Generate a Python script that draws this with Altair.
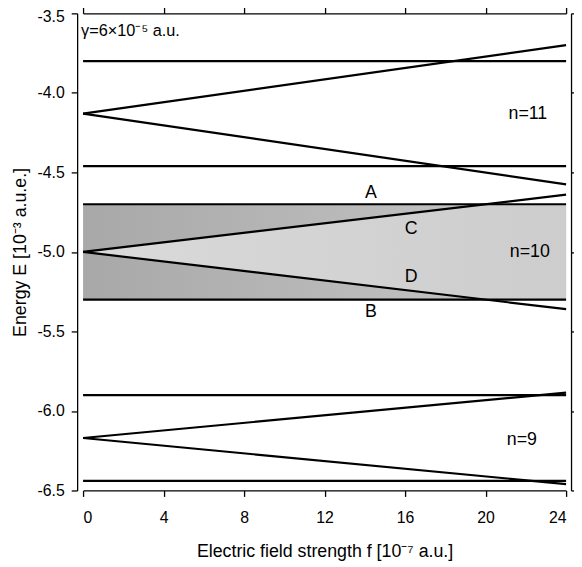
import altair as alt
import pandas as pd

# ---- data ----
levels = ["n=11", "n=10", "n=9"]
centers = [-4.13, -5.00, -6.17]          # fan origin at f = 0
fan_upper_end = [-3.70, -4.64, -5.885]   # upper Stark line at f = 24
fan_lower_end = [-4.575, -5.36, -6.46]   # lower Stark line at f = 24
flat_upper = [-3.80, -4.70, -5.90]       # field-independent upper level
flat_lower = [-4.46, -5.30, -6.44]       # field-independent lower level
f_max = 24.0

x_ticks = [0, 4, 8, 12, 16, 20, 24]
y_ticks = [-3.5, -4.0, -4.5, -5.0, -5.5, -6.0, -6.5]

label_text = ["n=11", "n=10", "n=9", "A", "B", "C", "D"]
label_f = [22.1, 22.2, 21.8, 14.3, 14.3, 16.3, 16.3]
label_E = [-4.13, -5.00, -6.18, -4.63, -5.38, -4.855, -5.157]

gamma_text = "γ=6×10⁻⁵ a.u."
gamma_f = 0.0
gamma_E = -3.61

FONT = "Liberation Sans"

# ---- tables ----
flat_rows = []
for i, lv in enumerate(levels):
    flat_rows.append({"id": f"{lv}_u", "f": 0.0, "f2": f_max, "E": flat_upper[i]})
    flat_rows.append({"id": f"{lv}_l", "f": 0.0, "f2": f_max, "E": flat_lower[i]})
flat_df = pd.DataFrame(flat_rows)

fan_rows = []
for i, lv in enumerate(levels):
    fan_rows += [
        {"id": f"{lv}_up", "f": 0.0, "E": centers[i]},
        {"id": f"{lv}_up", "f": f_max, "E": fan_upper_end[i]},
        {"id": f"{lv}_lo", "f": 0.0, "E": centers[i]},
        {"id": f"{lv}_lo", "f": f_max, "E": fan_lower_end[i]},
    ]
fan_df = pd.DataFrame(fan_rows)

# shaded band of n=10 (between A and B)
k = 1
band_df = pd.DataFrame([{"f": 0.0, "f2": f_max, "E": flat_upper[k], "E2": flat_lower[k]}])

# lighter wedge between the n=10 Stark lines, limited to the band
def up(f):
    return centers[k] + (fan_upper_end[k] - centers[k]) * f / f_max

def lo(f):
    return centers[k] + (fan_lower_end[k] - centers[k]) * f / f_max

fu = f_max * (flat_upper[k] - centers[k]) / (fan_upper_end[k] - centers[k])
fl = f_max * (flat_lower[k] - centers[k]) / (fan_lower_end[k] - centers[k])
fs = sorted(set([0.0, min(fu, f_max), min(fl, f_max), f_max]))
wedge_df = pd.DataFrame([
    {"f": f, "top": min(up(f), flat_upper[k]), "bot": max(lo(f), flat_lower[k])} for f in fs
])

lab_df = pd.DataFrame({"t": label_text, "f": label_f, "E": label_E})
gam_df = pd.DataFrame({"t": [gamma_text], "f": [gamma_f], "E": [gamma_E]})

xs = alt.Scale(domain=[0, 24], nice=False, zero=False)
ys = alt.Scale(domain=[-6.5, -3.5], nice=False, zero=False)

label_expr = "(datum.value % 1 === 0) ? toString(datum.value) + '.0' : toString(datum.value)"

x_bottom = alt.Axis(values=x_ticks, orient="bottom", title="Electric field strength f [10⁻⁷ a.u.]",
                    grid=False, tickSize=6, labelPadding=13, titlePadding=18,
                    labelFontSize=16, titleFontSize=18, labelFont=FONT, titleFont=FONT,
                    titleFontWeight="normal", labelColor="black", titleColor="black",
                    domainColor="black", tickColor="black", domainWidth=1.3, tickWidth=1.3)
y_left = alt.Axis(values=y_ticks, orient="left", title="Energy E [10⁻³ a.u.e.]",
                  labelExpr=label_expr, grid=False, tickSize=6, offset=6,
                  labelPadding=7, titlePadding=8,
                  labelOffset={"condition": {"test": "datum.value === -3.5", "value": 3}, "value": 0},
                  labelFontSize=16, titleFontSize=18, labelFont=FONT, titleFont=FONT,
                  titleFontWeight="normal", labelColor="black", titleColor="black",
                  domainColor="black", tickColor="black", domainWidth=1.3, tickWidth=1.3)
x_top = alt.Axis(values=x_ticks, orient="top", title=None, labels=False, grid=False, tickSize=6,
                 domainColor="black", tickColor="black", domainWidth=1.3, tickWidth=1.3)
y_right = alt.Axis(values=y_ticks, orient="right", title=None, labels=False, grid=False, tickSize=6,
                   offset=5, domainColor="black", tickColor="black", domainWidth=1.3, tickWidth=1.3)

band = alt.Chart(band_df).mark_rect(
    fill=alt.LinearGradient(gradient="linear", x1=0, x2=1, y1=0, y2=0,
                            stops=[alt.GradientStop(color="#a8a8a8", offset=0),
                                   alt.GradientStop(color="#b8b8b8", offset=0.5),
                                   alt.GradientStop(color="#c8c8c8", offset=1)])
).encode(
    x=alt.X("f:Q", scale=xs, axis=x_bottom), x2="f2:Q",
    y=alt.Y("E:Q", scale=ys, axis=y_left), y2="E2:Q",
)

wedge = alt.Chart(wedge_df).mark_area(
    fill=alt.LinearGradient(gradient="linear", x1=0, x2=1, y1=0, y2=0,
                            stops=[alt.GradientStop(color="#dadada", offset=0),
                                   alt.GradientStop(color="#cdcdcd", offset=1)])
).encode(
    x=alt.X("f:Q", scale=xs, axis=x_top), y=alt.Y("top:Q", scale=ys, axis=y_right), y2="bot:Q"
)

flats = alt.Chart(flat_df).mark_rule(color="black", strokeWidth=2.2).encode(
    x=alt.X("f:Q", scale=xs, axis=None), x2="f2:Q", y=alt.Y("E:Q", scale=ys, axis=None)
)

fans = alt.Chart(fan_df).mark_line(color="black", strokeWidth=2.2).encode(
    x=alt.X("f:Q", scale=xs, axis=None), y=alt.Y("E:Q", scale=ys, axis=None), detail="id:N"
)

labels = alt.Chart(lab_df).mark_text(font=FONT, fontSize=18, color="black").encode(
    x=alt.X("f:Q", scale=xs, axis=None), y=alt.Y("E:Q", scale=ys, axis=None), text="t:N"
)

gamma = alt.Chart(gam_df).mark_text(font=FONT, fontSize=16.5, color="black", align="left", dx=-2).encode(
    x=alt.X("f:Q", scale=xs, axis=None), y=alt.Y("E:Q", scale=ys, axis=None), text="t:N"
)

chart = alt.layer(band, wedge, flats, fans, labels, gamma).resolve_axis(
    x="independent", y="independent"
).properties(
    width=489, height=483,
    autosize=alt.AutoSizeParams(type="none"),
    padding={"left": 76, "top": 2, "right": 8, "bottom": 72},
    background="white",
).configure_view(stroke=None)

chart.save("out.html", embed_options={"renderer": "svg", "actions": False})
